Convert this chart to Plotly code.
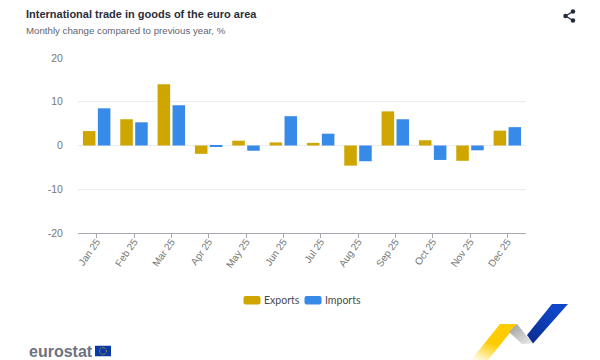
import plotly.graph_objects as go
from urllib.parse import quote

months = ["Jan 25", "Feb 25", "Mar 25", "Apr 25", "May 25", "Jun 25",
          "Jul 25", "Aug 25", "Sep 25", "Oct 25", "Nov 25", "Dec 25"]
exports = [3.3, 6.0, 14.0, -1.9, 1.1, 0.7, 0.6, -4.6, 7.8, 1.2, -3.5, 3.4]
imports = [8.5, 5.3, 9.2, -0.3, -1.2, 6.7, 2.7, -3.6, 6.0, -3.3, -1.1, 4.2]
y_ticks = [-20, -10, 0, 10, 20]
EXP = "#CFA500"
IMP = "#388AE8"
# page coordinates of the plot area; the page body adds an 8 px margin around the figure
L, R, T, B = 78, 526, 58, 233
PAGE = 8
W, H = 600 - PAGE, 360 - PAGE


def px(x):
    return (x - L) / (R - L)


def py(y):
    return (B - y) / (B - T)


def svg_uri(body, w, h):
    s = f'<svg xmlns="http://www.w3.org/2000/svg" width="{w}" height="{h}" viewBox="0 0 {w} {h}">{body}</svg>'
    return "data:image/svg+xml;charset=utf-8," + quote(s)


def image(body, x, y, w, h):
    return dict(source=svg_uri(body, w, h), xref="paper", yref="paper", x=px(x), y=py(y),
                sizex=w / (R - L), sizey=h / (B - T), xanchor="left", yanchor="top",
                sizing="stretch", layer="above")


logo = """
<defs>
<linearGradient id="y" x1="0" y1="1" x2="0.55" y2="0"><stop offset="0" stop-color="#FFFFFF"/><stop offset="0.55" stop-color="#FFCC00"/><stop offset="1" stop-color="#FFCC00"/></linearGradient>
<linearGradient id="g" x1="0" y1="0" x2="1" y2="1"><stop offset="0" stop-color="#9A9A9A"/><stop offset="1" stop-color="#EEEEEE"/></linearGradient>
<linearGradient id="b" x1="0" y1="1" x2="0.7" y2="0.2"><stop offset="0" stop-color="#0A2A8C"/><stop offset="1" stop-color="#0F47C8"/></linearGradient>
</defs>
<polygon points="0,56 29,20 46,20 17,56" fill="url(#y)"/>
<polygon points="46,20 62,39.5 51,40 38,28" fill="url(#g)"/>
<polygon points="56,31 81,0 97,0 62,39.5" fill="url(#b)"/>
"""

flag = '<rect width="16" height="11" fill="#0A3AA8"/><circle cx="8" cy="5.5" r="3.4" fill="none" stroke="#E8C800" stroke-width="0.9" stroke-dasharray="0.9 0.9"/>'

share = """
<g stroke="#1F2937" stroke-width="1.4" fill="#1F2937">
<line x1="3.5" y1="7" x2="11" y2="2.5"/><line x1="3.5" y1="7" x2="11" y2="11.5"/>
<circle cx="3.5" cy="7" r="2.2" stroke="none"/><circle cx="11" cy="2.5" r="2.2" stroke="none"/><circle cx="11" cy="11.5" r="2.2" stroke="none"/>
</g>"""

fig = go.Figure()
fig.add_bar(name="Exports", x=months, y=exports, marker=dict(color=EXP, line_width=0), showlegend=False)
fig.add_bar(name="Imports", x=months, y=imports, marker=dict(color=IMP, line_width=0), showlegend=False)


def rounded(x0, y0, x1, y1, r, color):
    path = (f"M{px(x0 + r)},{py(y0)} L{px(x1 - r)},{py(y0)} Q{px(x1)},{py(y0)} {px(x1)},{py(y0 + r)} "
            f"L{px(x1)},{py(y1 - r)} Q{px(x1)},{py(y1)} {px(x1 - r)},{py(y1)} L{px(x0 + r)},{py(y1)} "
            f"Q{px(x0)},{py(y1)} {px(x0)},{py(y1 - r)} L{px(x0)},{py(y0 + r)} Q{px(x0)},{py(y0)} {px(x0 + r)},{py(y0)} Z")
    return dict(type="path", xref="paper", yref="paper", path=path, fillcolor=color, line_width=0)


def note(text, x, y, size, color, family="Liberation Sans", bold=False, anchor="left"):
    return dict(text=f"<b>{text}</b>" if bold else text, xref="paper", yref="paper", x=px(x - 2), y=py(y),
                xanchor=anchor, yanchor="middle", showarrow=False,
                font=dict(size=size, color=color, family=family))


fig.update_layout(
    width=W, height=H, autosize=False,
    margin=dict(l=L - PAGE, r=W - (R - PAGE), t=T - PAGE, b=H - (B - PAGE)),
    paper_bgcolor="white", plot_bgcolor="white",
    barmode="group", bargap=0.2, bargroupgap=0.16,
    showlegend=False,
    font=dict(family="Liberation Sans", size=11, color="#666666"),
    xaxis=dict(type="category", categoryorder="array", categoryarray=months, tickangle=-55,
               ticks="outside", ticklen=4, tickcolor="#A8A8B0", tickwidth=1,
               ticklabelstandoff=-6,
               showline=True, linecolor="#A8A8B0", linewidth=1, showgrid=False, zeroline=False,
               tickfont=dict(size=10, color="#777777"), automargin=False),
    yaxis=dict(range=[-20, 20], tickmode="array", tickvals=y_ticks, ticktext=[str(v) for v in y_ticks],
               gridcolor="#EBECF2", gridwidth=1, zeroline=False, showline=False,
               tickfont=dict(size=10.5, color="#777777"), ticks="outside", ticklen=12,
               tickcolor="rgba(0,0,0,0)", automargin=False),
    shapes=[rounded(243.5, 296, 260.5, 304.5, 2, EXP), rounded(304.5, 296, 321.5, 304.5, 2, IMP)],
    annotations=[
        note("International trade in goods of the euro area", 26, 14, 11, "#2B2F3A", bold=True),
        note("Monthly change compared to previous year, %", 26, 30, 9.7, "#5F6470"),
        note("Exports", 264, 300, 10.5, "#4A4A4A", family="Lato"),
        note("Imports", 325, 300, 10.5, "#4A4A4A", family="Lato"),
        note("eurostat", 29, 351.5, 16, "#6E7280", bold=True),
    ],
    images=[
        image(logo, 471, 304, 100, 56),
        image(flag, 95, 345.5, 16, 11),
        image(share, 562, 9, 15, 15),
    ],
)
fig.write_html("out.html")
